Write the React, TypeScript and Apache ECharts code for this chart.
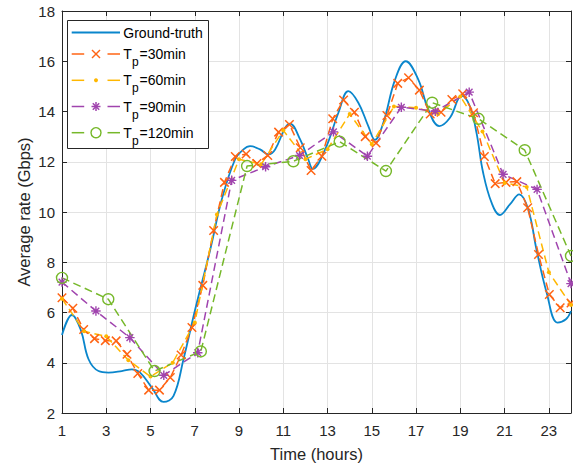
import React, { useEffect, useRef } from "react";
import * as echarts from "echarts";

// ---------- data ----------
const linspace = (a: number, b: number, n: number) =>
  Array.from({ length: n }, (_, i) => a + ((b - a) * i) / (n - 1));

const gtHours = [1, 1.45, 1.85, 2.2, 2.65, 3.1, 3.7, 4.16, 4.53, 5.06, 5.59, 6.04, 6.49, 7.02, 7.7, 8.22, 8.82, 9.2, 9.5, 9.95, 10.33, 10.63, 11.08, 11.3, 11.76, 12.13, 12.33, 12.89, 13.49, 13.94, 14.39, 14.84, 15.14, 15.52, 16.05, 16.53, 17.1, 17.55, 18.05, 18.53, 19.06, 19.43, 19.73, 20.03, 20.41, 20.79, 21.24, 21.66, 22.07, 22.44, 22.9, 23.39, 23.77, 24];
const gtRate = [5.1, 5.9, 5.3, 4.14, 3.67, 3.61, 3.67, 3.74, 3.61, 3.01, 2.44, 2.68, 4.14, 6.13, 8.51, 10.5, 12.09, 12.49, 12.62, 12.49, 12.29, 12.49, 13.35, 13.52, 12.89, 12.09, 11.72, 12.49, 13.95, 14.81, 14.35, 13.42, 12.87, 13.55, 15.27, 16.0, 15.27, 14.08, 13.42, 13.75, 14.62, 14.21, 13.15, 11.56, 10.37, 9.88, 10.3, 10.7, 10.1, 8.51, 6.79, 5.6, 5.73, 6.06];

// Predictions, sampled uniformly over 1..24 h
const hours30 = linspace(1, 24, 48);
const rate30 = [6.59, 6.17, 5.32, 4.96, 4.88, 4.87, 4.34, 3.57, 2.91, 2.91, 3.41, 4.31, 5.4, 7.08, 9.26, 11.18, 12.21, 12.31, 11.93, 12.25, 13.18, 13.48, 12.56, 11.65, 12.22, 13.71, 14.46, 13.97, 13.0, 12.75, 13.84, 15.12, 15.34, 14.85, 13.9, 13.97, 14.48, 14.71, 13.95, 12.21, 11.13, 11.18, 11.21, 10.17, 8.31, 6.72, 6.19, 6.38];

const hours60 = linspace(1, 24, 24);
const rate60 = [6.55, 5.25, 5.05, 4.1, 3.45, 4.0, 5.6, 9.9, 12.1, 11.9, 13.25, 12.1, 12.5, 13.9, 12.7, 14.2, 14.15, 13.9, 14.6, 13.2, 11.15, 11.0, 7.6, 6.3];

const hours90 = linspace(1, 24, 16);
const rate90 = [7.21, 6.06, 5.0, 3.5, 4.4, 11.26, 11.8, 12.25, 13.19, 12.22, 14.17, 14.01, 14.77, 11.5, 10.9, 7.15];

const hours120 = linspace(1, 24, 12);
const rate120 = [7.38, 6.53, 3.67, 4.45, 11.83, 12.02, 12.8, 11.63, 14.35, 13.71, 12.46, 8.25];

const xTickMin = 1;
const xTickMax = 24;
const yTickMin = 2;
const yTickMax = 18;

// legend entries: [main text, subscript, rest]
const legendMain = ["Ground-truth", "T", "T", "T", "T"];
const legendSub = ["", "p", "p", "p", "p"];
const legendRest = ["", "=30min", "=60min", "=90min", "=120min"];

// ---------- styles ----------
const FONT = "'Liberation Sans', Arial, Helvetica, sans-serif";
const AXIS = "#262626";
const GRID = "#e3e3e3";
const C_BLUE = "#0a86cc";
const C_ORANGE = "#ff6414";
const C_YELLOW = "#ffb700";
const C_PURPLE = "#a044ae";
const C_GREEN = "#76b82a";
const COLORS = [C_BLUE, C_ORANGE, C_YELLOW, C_PURPLE, C_GREEN];
const MARKERS = ["none", "x", "dot", "star", "circle"];

const SYM_X = "path://M0,0L10,10M10,0L0,10";
const SYM_STAR = "path://M5,0L5,10M0,5L10,5M1.5,1.5L8.5,8.5M8.5,1.5L1.5,8.5";
const SYM_DOT = "path://M0,0M10,10M3,5A2,2,0,1,1,7,5A2,2,0,1,1,3,5Z";
const SYM_CIRCLE = "path://M0,5A5,5,0,1,1,10,5A5,5,0,1,1,0,5Z";

const zip = (xs: number[], ys: number[]) => xs.map((x, i) => [x, ys[i]]);

// legend box layout (pixels)
const LG_BOX = { x: 67.5, y: 20.5, w: 141, h: 128 };
const LG_ROWS = [32.5, 54, 80.3, 106.5, 132.7];
const LG_X0 = 71.7;
const LG_X1 = 120;
const LG_MX = 96;
const LG_TX = 123.3;

function legendGraphics() {
  const els: any[] = [];
  els.push({
    type: "rect",
    z: 100,
    shape: { x: LG_BOX.x, y: LG_BOX.y, width: LG_BOX.w, height: LG_BOX.h },
    style: { fill: "#fff", stroke: AXIS, lineWidth: 1 },
  });
  LG_ROWS.forEach((cy, i) => {
    const color = COLORS[i];
    const ls = { stroke: color, lineWidth: i === 0 ? 1.8 : 1.5 };
    if (i === 0) {
      els.push({ type: "line", z: 101, shape: { x1: LG_X0, y1: cy, x2: LG_X1, y2: cy }, style: ls });
    } else {
      els.push({ type: "line", z: 101, shape: { x1: LG_X0, y1: cy, x2: LG_X0 + 12.5, y2: cy }, style: ls });
      els.push({ type: "line", z: 101, shape: { x1: LG_X1 - 12.5, y1: cy, x2: LG_X1, y2: cy }, style: ls });
    }
    const m = MARKERS[i];
    const ms = { stroke: color, lineWidth: 1.5 };
    if (m === "x") {
      els.push({ type: "line", z: 102, shape: { x1: LG_MX - 4, y1: cy - 4, x2: LG_MX + 4, y2: cy + 4 }, style: ms });
      els.push({ type: "line", z: 102, shape: { x1: LG_MX - 4, y1: cy + 4, x2: LG_MX + 4, y2: cy - 4 }, style: ms });
    } else if (m === "dot") {
      els.push({ type: "circle", z: 102, shape: { cx: LG_MX, cy, r: 2 }, style: { fill: color } });
    } else if (m === "star") {
      const r = 4.5;
      const d = 3.2;
      els.push({ type: "line", z: 102, shape: { x1: LG_MX, y1: cy - r, x2: LG_MX, y2: cy + r }, style: ms });
      els.push({ type: "line", z: 102, shape: { x1: LG_MX - r, y1: cy, x2: LG_MX + r, y2: cy }, style: ms });
      els.push({ type: "line", z: 102, shape: { x1: LG_MX - d, y1: cy - d, x2: LG_MX + d, y2: cy + d }, style: ms });
      els.push({ type: "line", z: 102, shape: { x1: LG_MX - d, y1: cy + d, x2: LG_MX + d, y2: cy - d }, style: ms });
    } else if (m === "circle") {
      els.push({ type: "circle", z: 102, shape: { cx: LG_MX, cy, r: 5 }, style: { fill: "none", stroke: color, lineWidth: 1.4 } });
    }
    els.push({
      type: "text",
      z: 102,
      x: LG_TX,
      y: cy,
      style: { text: legendMain[i], fontFamily: FONT, fontSize: 14, fill: "#000", verticalAlign: "middle", align: "left" },
    });
    if (legendSub[i]) {
      els.push({
        type: "text",
        z: 102,
        x: LG_TX + 8.7,
        y: cy + 8,
        style: { text: legendSub[i], fontFamily: FONT, fontSize: 12, fill: "#000", verticalAlign: "middle", align: "left" },
      });
      els.push({
        type: "text",
        z: 102,
        x: LG_TX + 16.2,
        y: cy,
        style: { text: legendRest[i], fontFamily: FONT, fontSize: 14, fill: "#000", verticalAlign: "middle", align: "left" },
      });
    }
  });
  return els;
}

export default function App() {
  const ref = useRef<HTMLDivElement>(null);

  useEffect(() => {
    if (!ref.current) return;
    const chart = echarts.init(ref.current, undefined, { renderer: "svg" });

    const dashed = (color: string) => ({ color, width: 1.5, type: [8, 4.5] as any });

    const axisCommon = {
      axisLine: { show: true, onZero: false, lineStyle: { color: AXIS, width: 1 } },
      axisTick: { show: true, inside: true, length: 5, lineStyle: { color: AXIS, width: 1 } },
    };

    const option: any = {
      animation: false,
      backgroundColor: "#fff",
      grid: {
        left: 62,
        top: 11,
        width: 509,
        height: 402,
        containLabel: false,
        outerBoundsMode: "none",
      },
      graphic: legendGraphics(),
      xAxis: [
        {
          type: "value",
          position: "bottom",
          min: xTickMin,
          max: xTickMax,
          interval: 2,
          ...axisCommon,
          axisLabel: {
            color: AXIS,
            fontFamily: FONT,
            fontSize: 15,
            margin: 10,
            showMaxLabel: false,
            formatter: (v: number) => (v === xTickMax ? "" : String(v)),
          },
          splitLine: { show: true, lineStyle: { color: GRID, width: 1 } },
          name: "Time (hours)",
          nameLocation: "middle",
          nameGap: 32,
          nameMoveOverlap: false,
          nameTextStyle: { color: AXIS, fontFamily: FONT, fontSize: 16.5 },
        },
        {
          type: "value",
          position: "top",
          min: xTickMin,
          max: xTickMax,
          interval: 2,
          ...axisCommon,
          axisLabel: { show: false },
          splitLine: { show: false },
        },
      ],
      yAxis: [
        {
          type: "value",
          position: "left",
          min: yTickMin,
          max: yTickMax,
          interval: 2,
          ...axisCommon,
          axisLabel: { color: AXIS, fontFamily: FONT, fontSize: 15, margin: 7 },
          splitLine: { show: true, lineStyle: { color: GRID, width: 1 } },
          name: "Average rate (Gbps)",
          nameLocation: "middle",
          nameGap: 30,
          nameMoveOverlap: false,
          nameTextStyle: { color: AXIS, fontFamily: FONT, fontSize: 16.5 },
        },
        {
          type: "value",
          position: "right",
          min: yTickMin,
          max: yTickMax,
          interval: 2,
          ...axisCommon,
          axisLabel: { show: false },
          splitLine: { show: false },
        },
      ],
      series: [
        {
          name: "Ground-truth",
          type: "line",
          data: zip(gtHours, gtRate),
          smooth: 0.4,
          showSymbol: false,
          symbol: "none",
          lineStyle: { color: C_BLUE, width: 1.8 },
          itemStyle: { color: C_BLUE },
        },
        {
          name: "Tp=30min",
          type: "line",
          data: zip(hours30, rate30),
          symbol: SYM_X,
          symbolSize: 8.5,
          lineStyle: dashed(C_ORANGE),
          itemStyle: { color: C_ORANGE, borderColor: C_ORANGE, borderWidth: 1.5 },
        },
        {
          name: "Tp=60min",
          type: "line",
          data: zip(hours60, rate60),
          symbol: SYM_DOT,
          symbolSize: 10,
          lineStyle: dashed(C_YELLOW),
          itemStyle: { color: C_YELLOW, borderColor: C_YELLOW, borderWidth: 0 },
        },
        {
          name: "Tp=90min",
          type: "line",
          data: zip(hours90, rate90),
          symbol: SYM_STAR,
          symbolSize: 9.5,
          lineStyle: dashed(C_PURPLE),
          itemStyle: { color: C_PURPLE, borderColor: C_PURPLE, borderWidth: 1.4 },
        },
        {
          name: "Tp=120min",
          type: "line",
          data: zip(hours120, rate120),
          symbol: SYM_CIRCLE,
          symbolSize: 11,
          lineStyle: dashed(C_GREEN),
          itemStyle: { color: "rgba(0,0,0,0)", borderColor: C_GREEN, borderWidth: 1.4 },
        },
      ],
    };

    chart.setOption(option);
    return () => chart.dispose();
  }, []);

  return (
    <div
      ref={ref}
      style={{ position: "fixed", left: 0, top: 0, width: 573, height: 464, background: "#fff" }}
    />
  );
}
